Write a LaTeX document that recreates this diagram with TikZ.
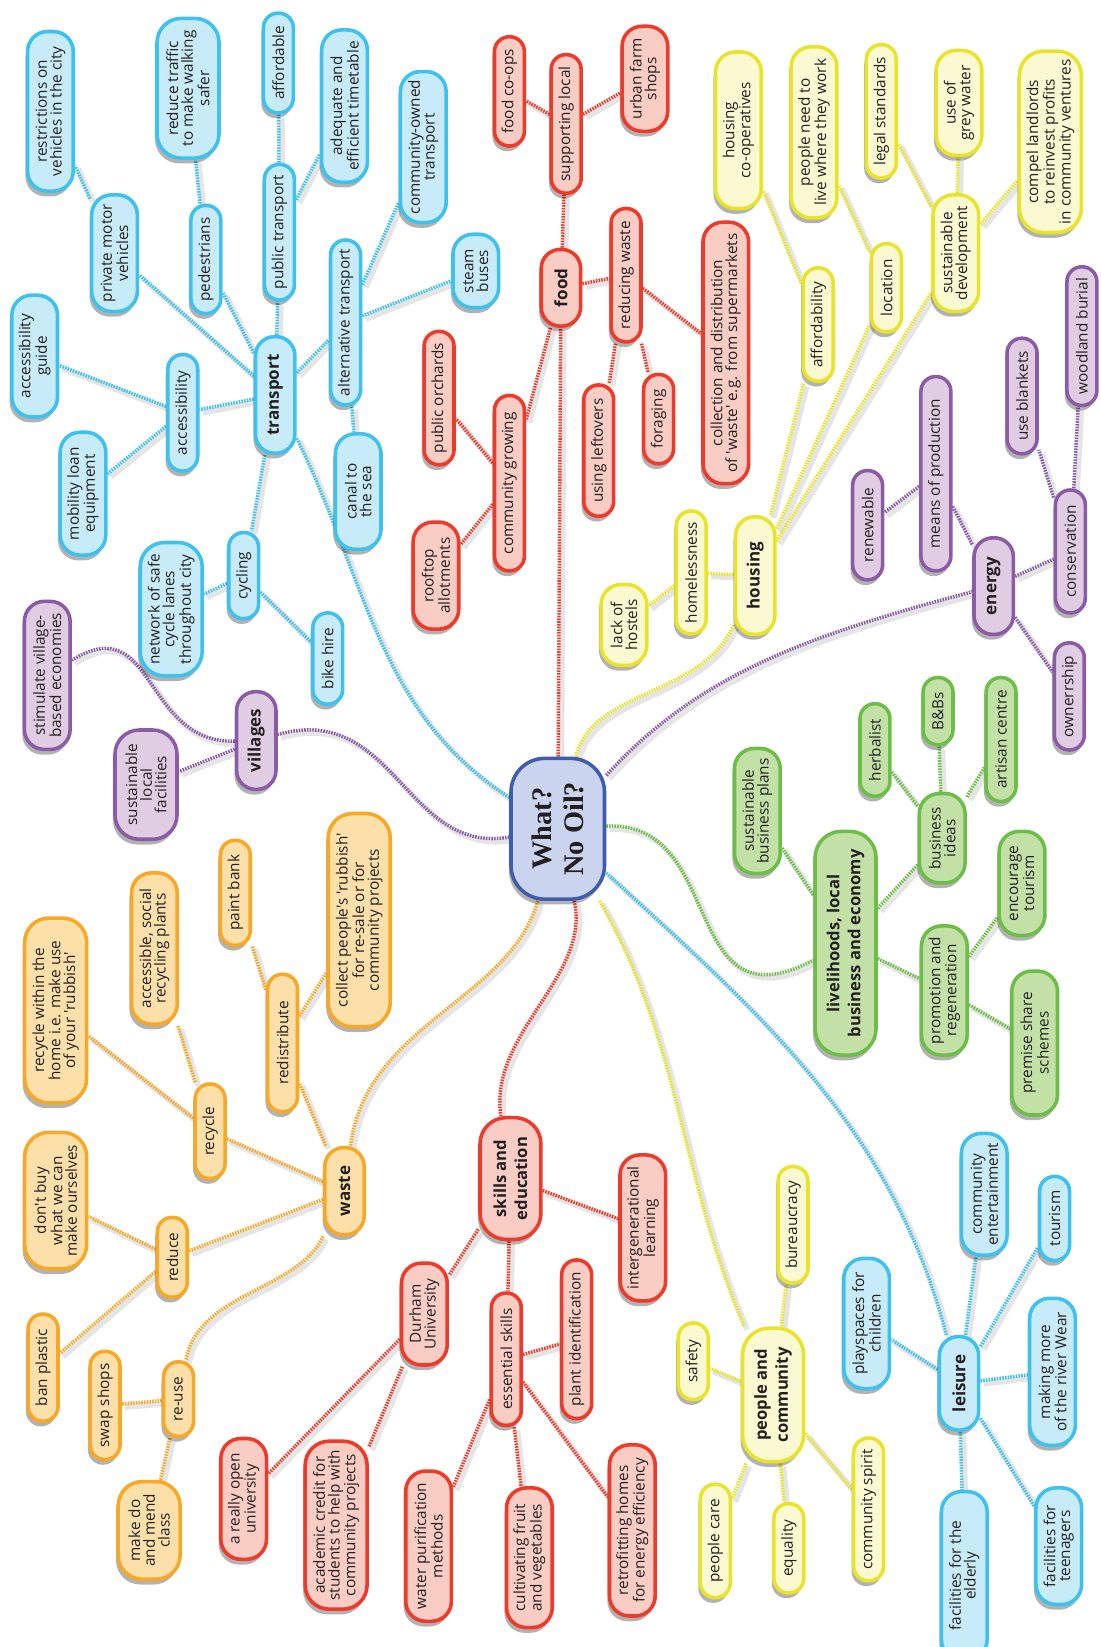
\documentclass[tikz,border=0pt]{standalone}
\usepackage{fontspec}
\setsansfont{Open Sans}[Ligatures=TeXOff]
\newfontfamily\cenfont{Liberation Serif}[Ligatures=TeXOff]
\usetikzlibrary{shadows}
\definecolor{blueD}{HTML}{3EC1EC}\definecolor{blueL}{HTML}{C8EBF9}
\definecolor{redD}{HTML}{EE3A2A}\definecolor{redL}{HTML}{F9CCC4}
\definecolor{yelD}{HTML}{E8E42A}\definecolor{yelL}{HTML}{FBF9D2}
\definecolor{purD}{HTML}{8B5CA6}\definecolor{purL}{HTML}{E1CDE3}
\definecolor{grnD}{HTML}{6DBE48}\definecolor{grnL}{HTML}{C3E1A6}
\definecolor{orgD}{HTML}{F7A826}\definecolor{orgL}{HTML}{FDE0A9}
\definecolor{cenD}{HTML}{3F5DAA}\definecolor{cenL}{HTML}{CAD4EE}
\definecolor{txtC}{HTML}{231F20}
\pgfdeclarelayer{bglayer}
\pgfdeclarelayer{edgelayer}
\pgfsetlayers{bglayer,edgelayer,main}
\tikzset{
  nd/.style={rotate=90, draw, line width=3.4pt, align=center, text=txtC,
    font=\sffamily\fontsize{14.6}{14}\selectfont, inner xsep=8pt, inner ysep=2pt,
    drop shadow={shadow xshift=-2pt, shadow yshift=-5pt, opacity=0.3, fill=black}},
  l1/.style={nd, minimum height=28.5pt, rounded corners=14pt},
  l2/.style={nd, minimum height=43.5pt, rounded corners=19pt},
  l3/.style={nd, minimum height=59pt, rounded corners=23pt},
  hub/.style={nd, minimum height=37.5pt, rounded corners=18pt, font=\sffamily\bfseries\fontsize{16.2}{19.5}\selectfont},
  hubtwo/.style={nd, minimum height=58pt, rounded corners=25pt, font=\sffamily\bfseries\fontsize{15.8}{20}\selectfont},
  L/.style={minimum width=#1pt},
  bl/.style={draw=blueD, fill=blueL},
  rd/.style={draw=redD, fill=redL},
  ye/.style={draw=yelD, fill=yelL},
  pu/.style={draw=purD, fill=purL},
  gr/.style={draw=grnD, fill=grnL},
  og/.style={draw=orgD, fill=orgL},
  e/.style={draw=#1, line width=3.3pt, dash pattern=on 1.5pt off 1.1pt,
    preaction={draw=black, draw opacity=0.1, line width=5.5pt, solid, transform canvas={shift={(3pt,-3pt)}}}},
}
\begin{document}
\begin{tikzpicture}[x=1pt, y=-1pt]
\begin{pgfonlayer}{bglayer}
\fill[white] (0,0) rectangle (1048,1568);
\end{pgfonlayer}
\useasboundingbox (0,0) rectangle (1048,1568);

% centre
\node[nd, draw=cenD, fill=cenL, minimum width=134pt, minimum height=89pt, rounded corners=32pt,
  font=\cenfont\bfseries\fontsize{27}{31}\selectfont] (C) at (531,789) {What?\\No Oil?};

% transport
\node[hub, bl, L=111] (transport) at (262,376) {transport};
\node[l2, bl, L=111] (pmv) at (109,241) {private motor\\vehicles};
\node[l2, bl, L=152] (restrict) at (48,106) {restrictions on\\vehicles in the city};
\node[l1, bl, L=103] (ped) at (196,247) {pedestrians};
\node[l3, bl, L=133] (reducetraffic) at (179,84) {reduce traffic\\to make walking\\safer};
\node[l1, bl, L=129] (pubtr) at (266,221) {public transport};
\node[l1, bl, L=95] (affordable) at (265,60) {affordable};
\node[l2, bl, L=145] (adequate) at (328,101) {adequate and\\efficient timetable};
\node[l1, bl, L=157] (alttr) at (329,307) {alternative transport};
\node[l2, bl, L=142] (commowned) at (403,140) {community-owned\\transport};
\node[l2, bl, L=70] (steam) at (453,258) {steam\\buses};
\node[l1, bl, L=111] (access) at (174,393) {accessibility};
\node[l2, bl, L=116] (accguide) at (33,339) {accessibility\\guide};
\node[l2, bl, L=117] (mobility) at (79,470) {mobility loan\\equipment};
\node[l2, bl, L=110] (canal) at (341,468) {canal to\\the sea};
\node[l1, bl, L=82] (cycling) at (232,548) {cycling};
\node[l3, bl, L=127] (network) at (163,580) {network of safe\\cycle lanes\\throughout city};
\node[l1, bl, L=87] (bikehire) at (312,627) {bike hire};

% leisure
\node[hub, bl, L=89] (leisure) at (913,1317) {leisure};
\node[l2, bl, L=116] (commEnt) at (937,1137) {community\\entertainment};
\node[l1, bl, L=80] (tourismL) at (1004,1160) {tourism};
\node[l2, bl, L=124] (playspaces) at (825,1260) {playspaces for\\children};
\node[l2, bl, L=140] (river) at (1002,1306) {making more\\of the river Wear};
\node[l2, bl, L=160] (elderly) at (918,1500) {facilities for the\\elderly};
\node[l2, bl, L=111] (teen) at (1008,1472) {facilities for\\teenagers};

% villages
\node[hub, pu, L=93] (villages) at (244,705) {villages};
\node[l2, pu, L=141] (stimulate) at (45,643) {stimulate village-\\based economies};
\node[l3, pu, L=104] (slf) at (139,747) {sustainable\\local\\facilities};

% energy
\node[hub, pu, L=92] (energy) at (946,558) {energy};
\node[l1, pu, L=104] (renewable) at (826,500) {renewable};
\node[l1, pu, L=185] (means) at (891,451) {means of production};
\node[l1, pu, L=110] (blankets) at (973,377) {use blankets};
\node[l1, pu, L=132] (woodland) at (1030,320) {woodland burial};
\node[l1, pu, L=117] (conservation) at (1019,525) {conservation};
\node[l1, pu, L=102] (ownership) at (1018,663) {ownerrship};

% food
\node[hub, rd, L=73] (food) at (534,274) {food};
\node[l1, rd, L=132] (suplocal) at (539,118) {supporting local};
\node[l1, rd, L=104] (coops) at (485,87) {food co-ops};
\node[l2, rd, L=100] (urban) at (614,75) {urban farm\\shops};
\node[l1, rd, L=127] (redwaste) at (596,262) {reducing waste};
\node[l2, rd, L=249] (collection) at (691,336) {collection and distribution\\of 'waste' e.g. from supermarkets};
\node[l1, rd, L=85] (foraging) at (627,399) {foraging};
\node[l1, rd, L=125] (leftovers) at (570,429) {using leftovers};
\node[l1, rd, L=167] (commgrow) at (485,460) {community growing};
\node[l1, rd, L=127] (orchards) at (418,379) {public orchards};
\node[l2, rd, L=102] (rooftop) at (415,548) {rooftop\\allotments};

% skills
\node[hubtwo, rd, L=116] (skills) at (486,1122) {skills and\\education};
\node[l2, rd, L=139] (intergen) at (612,1169) {intergenerational\\learning};
\node[l2, rd, L=97] (durham) at (404,1251) {Durham\\University};
\node[l1, rd, L=126] (essential) at (482,1294) {essential skills};
\node[l1, rd, L=151] (plantid) at (549,1275) {plant identification};
\node[l2, rd, L=115] (openuni) at (232,1427) {a really open\\university};
\node[l3, rd, L=160] (academic) at (320,1452) {academic credit for\\students to help with\\community projects};
\node[l2, rd, L=143] (water) at (408,1472) {water purification\\methods};
\node[l2, rd, L=133] (cultivating) at (504,1483) {cultivating fruit\\and vegetables};
\node[l2, rd, L=163] (retrofit) at (602,1457) {retrofitting homes\\for energy efficiency};

% housing
\node[hub, ye, L=112] (housing) at (719,548) {housing};
\node[l1, ye, L=108] (afford) at (779,309) {affordability};
\node[l2, ye, L=149] (hcoops) at (703,124) {housing\\co-operatives};
\node[l2, ye, L=163] (liveswork) at (775,126) {people need to\\live where they work};
\node[l1, ye, L=84] (location) at (844,274) {location};
\node[l1, ye, L=127] (legal) at (839,106) {legal standards};
\node[l2, ye, L=100] (grey) at (913,98) {use of\\grey water};
\node[l2, ye, L=111] (susdev) at (910,241) {sustainable\\development};
\node[l3, ye, L=171] (compel) at (1000,135) {compel landlords\\to reinvest profits\\in community ventures};
\node[l1, ye, L=117] (homeless) at (658,545) {homelessness};
\node[l2, ye, L=77] (hostels) at (594,595) {lack of\\hostels};

% people and community
\node[hubtwo, ye, L=127] (people) at (736,1328) {people and\\community};
\node[l1, ye, L=111] (bureau) at (755,1166) {bureaucracy};
\node[l1, ye, L=73] (safety) at (660,1296) {safety};
\node[l1, ye, L=108] (pcare) at (681,1467) {people care};
\node[l1, ye, L=85] (equality) at (751,1474) {equality};
\node[l1, ye, L=136] (cspirit) at (827,1437) {community spirit};

% livelihoods
\node[hubtwo, gr, L=213] (liv) at (805,898) {livelihoods, local\\business and economy};
\node[l2, gr, L=119] (sbp) at (721,772) {sustainable\\business plans};
\node[l1, gr, L=88] (herbalist) at (833,714) {herbalist};
\node[l1, gr, L=64] (bnb) at (893,677) {B\&Bs};
\node[l1, gr, L=118] (artisan) at (953,704) {artisan centre};
\node[l2, gr, L=85] (bideas) at (897,798) {business\\ideas};
\node[l2, gr, L=99] (enctour) at (973,841) {encourage\\tourism};
\node[l2, gr, L=123] (promo) at (899,943) {promotion and\\regeneration};
\node[l2, gr, L=137] (premise) at (985,993) {premise share\\schemes};

% waste
\node[hub, og, L=83] (waste) at (328,1134) {waste};
\node[l1, og, L=90] (recycle) at (200,1077) {recycle};
\node[l3, og, L=176] (rwithin) at (53,962) {recycle within the\\home i.e. make use\\of your 'rubbish'};
\node[l2, og, L=144] (accsocial) at (147,903) {accessible, social\\recycling plants};
\node[l1, og, L=131] (redistribute) at (269,993) {redistribute};
\node[l1, og, L=100] (paint) at (224,850) {paint bank};
\node[l3, og, L=203] (collect) at (342,876) {collect people's 'rubbish'\\for re-sale or for\\community projects};
\node[l3, og, L=130] (dontbuy) at (53,1143) {don't buy\\what we can\\make ourselves};
\node[l1, og, L=76] (reduce) at (164,1197) {reduce};
\node[l1, og, L=102] (banplastic) at (41,1302) {ban plastic};
\node[l1, og, L=103] (swap) at (100,1338) {swap shops};
\node[l1, og, L=71] (reuse) at (170,1332) {re-use};
\node[l3, og, L=93] (makedo) at (142,1457) {make do\\and mend\\class};

\begin{pgfonlayer}{edgelayer}
% main branches
\draw[e=blueD] (C) to[out=130,in=-70] (transport);
\draw[e=redD] (C) -- (food);
\draw[e=yelD] (C) to[out=50,in=-125] (housing);
\draw[e=purD] (C) to[out=25,in=180] (energy);
\draw[e=grnD] (C) to[out=-25,in=170] (liv);
\draw[e=blueD] (C) to[out=-55,in=100] (leisure);
\draw[e=yelD] (C) to[out=-72,in=105] (people);
\draw[e=redD] (C) to[out=-96,in=86] (skills);
\draw[e=orgD] (C) to[out=-125,in=75] (waste);
\draw[e=purD] (C) to[out=160,in=-5] (villages);
% transport
\draw[e=blueD] (transport) -- (pmv);
\draw[e=blueD] (pmv) -- (restrict);
\draw[e=blueD] (transport) -- (ped);
\draw[e=blueD] (ped) -- (reducetraffic);
\draw[e=blueD] (transport) -- (pubtr);
\draw[e=blueD] (pubtr) -- (affordable);
\draw[e=blueD] (pubtr) -- (adequate);
\draw[e=blueD] (transport) -- (alttr);
\draw[e=blueD] (alttr) -- (commowned);
\draw[e=blueD] (alttr) -- (steam);
\draw[e=blueD] (alttr) -- (canal);
\draw[e=blueD] (transport) -- (access);
\draw[e=blueD] (access) -- (accguide);
\draw[e=blueD] (access) -- (mobility);
\draw[e=blueD] (transport) -- (cycling);
\draw[e=blueD] (cycling) -- (network);
\draw[e=blueD] (cycling) -- (bikehire);
% leisure
\draw[e=blueD] (leisure) -- (commEnt);
\draw[e=blueD] (leisure) -- (tourismL);
\draw[e=blueD] (leisure) -- (playspaces);
\draw[e=blueD] (leisure) -- (river);
\draw[e=blueD] (leisure) -- (elderly);
\draw[e=blueD] (leisure) -- (teen);
% villages, energy
\draw[e=purD] (villages) to[out=155,in=-5] (stimulate);
\draw[e=purD] (villages) -- (slf);
\draw[e=purD] (energy) -- (means);
\draw[e=purD] (means) -- (renewable);
\draw[e=purD] (energy) -- (conservation);
\draw[e=purD] (conservation) -- (blankets);
\draw[e=purD] (conservation) -- (woodland);
\draw[e=purD] (energy) -- (ownership);
% food
\draw[e=redD] (food) -- (suplocal);
\draw[e=redD] (suplocal) -- (coops);
\draw[e=redD] (suplocal) -- (urban);
\draw[e=redD] (food) -- (redwaste);
\draw[e=redD] (redwaste) -- (collection);
\draw[e=redD] (redwaste) -- (leftovers);
\draw[e=redD] (redwaste) -- (foraging);
\draw[e=redD] (food) -- (commgrow);
\draw[e=redD] (commgrow) -- (orchards);
\draw[e=redD] (commgrow) -- (rooftop);
% skills
\draw[e=redD] (skills) -- (intergen);
\draw[e=redD] (skills) -- (durham);
\draw[e=redD] (skills) -- (essential);
\draw[e=redD] (essential) -- (plantid);
\draw[e=redD] (essential) -- (water);
\draw[e=redD] (essential) -- (cultivating);
\draw[e=redD] (essential) -- (retrofit);
\draw[e=redD] (durham) -- (openuni);
\draw[e=redD] (durham) -- (academic);
% housing
\draw[e=yelD] (housing) -- (afford);
\draw[e=yelD] (afford) -- (hcoops);
\draw[e=yelD] (housing) -- (location);
\draw[e=yelD] (location) -- (liveswork);
\draw[e=yelD] (housing) -- (susdev);
\draw[e=yelD] (susdev) -- (legal);
\draw[e=yelD] (susdev) -- (grey);
\draw[e=yelD] (susdev) -- (compel);
\draw[e=yelD] (housing) -- (homeless);
\draw[e=yelD] (homeless) -- (hostels);
% people
\draw[e=yelD] (people) -- (bureau);
\draw[e=yelD] (people) -- (safety);
\draw[e=yelD] (people) -- (pcare);
\draw[e=yelD] (people) -- (equality);
\draw[e=yelD] (people) -- (cspirit);
% livelihoods
\draw[e=grnD] (liv) -- (sbp);
\draw[e=grnD] (liv) -- (bideas);
\draw[e=grnD] (bideas) -- (herbalist);
\draw[e=grnD] (bideas) -- (bnb);
\draw[e=grnD] (bideas) -- (artisan);
\draw[e=grnD] (liv) -- (promo);
\draw[e=grnD] (promo) -- (enctour);
\draw[e=grnD] (promo) -- (premise);
% waste
\draw[e=orgD] (waste) -- (recycle);
\draw[e=orgD] (recycle) -- (rwithin);
\draw[e=orgD] (recycle) -- (accsocial);
\draw[e=orgD] (waste) -- (redistribute);
\draw[e=orgD] (redistribute) -- (paint);
\draw[e=orgD] (redistribute) -- (collect);
\draw[e=orgD] (waste) -- (reduce);
\draw[e=orgD] (reduce) -- (dontbuy);
\draw[e=orgD] (reduce) -- (banplastic);
\draw[e=orgD] (waste) to[out=-130,in=70] (reuse);
\draw[e=orgD] (reuse) -- (swap);
\draw[e=orgD] (reuse) -- (makedo);
\end{pgfonlayer}
\end{tikzpicture}
\end{document}
